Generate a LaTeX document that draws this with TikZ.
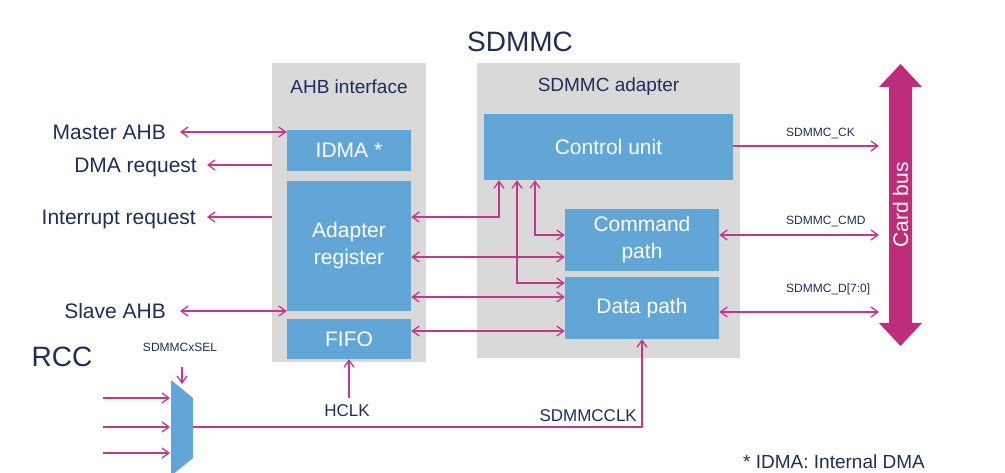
\documentclass[tikz,border=0pt]{standalone}
\usepackage{fontspec}
\setmainfont{Liberation Sans}
\usetikzlibrary{arrows.meta}
\definecolor{stblue}{HTML}{62A6D7}
\definecolor{stgray}{HTML}{D9D9D9}
\definecolor{stpink}{HTML}{C4378A}
\definecolor{busc}{HTML}{BE2D78}
\definecolor{navy}{HTML}{1F2D5A}
\newcommand\fsz[1]{\fontsize{#1}{1.28\dimexpr#1pt\relax}\selectfont}
\tikzset{
    grp/.style={fill=stgray, inner sep=0},
    blk/.style={fill=stblue, text=white, inner sep=0, align=center, font=\fsz{21}},
    lbl/.style={text=navy, inner sep=0},
    sig/.style={stpink, line width=1.3pt},
    >={Straight Barb[length=7pt,width=10pt]}
}
\begin{document}
\begin{tikzpicture}[x=1pt, y=-1pt]
        \useasboundingbox (0,0) rectangle (1005,473);

        % groups
        \node[grp, minimum width=154, minimum height=299] (ahb) at (349,212.5) {};
        \node[grp, minimum width=263, minimum height=295] (adapter) at (608.5,210.5) {};
        \node[lbl, font=\fsz{28}] (title) at (520,42) {SDMMC};
        \node[lbl, font=\fsz{19}] (ahblbl) at (349,87) {AHB interface};
        \node[lbl, font=\fsz{19}] (adplbl) at (608.5,87) {SDMMC adapter};

        % blocks
        \node[blk, minimum width=124, minimum height=41] (idma) at (349,150.5) {IDMA *};
        \node[blk, minimum width=124, minimum height=130] (areg) at (349,246) {Adapter\\register};
        \node[blk, minimum width=124, minimum height=40] (fifo) at (349,339) {FIFO};
        \node[blk, minimum width=249, minimum height=66] (ctrl) at (608.5,147) {Control unit};
        \node[blk, minimum width=154, minimum height=62] (cmd) at (642,240) {Command\\path};
        \node[blk, minimum width=154, minimum height=62] (data) at (642,308) {Data path};

        % card bus
        \fill[busc] (900.5,64) -- (922,87) -- (912,87) -- (912,323) -- (922,323) -- (900.5,346)
            -- (879,323) -- (889,323) -- (889,87) -- (879,87) -- cycle;
        \node[text=white, inner sep=0, font=\fsz{21}, rotate=90] (cardbus) at (900.5,205) {Card bus};

        % left side
        \node[lbl, font=\fsz{21}, anchor=base east] (master) at (166,139.5) {Master AHB};
        \node[lbl, font=\fsz{21}, anchor=base east] (dmareq) at (197,172.5) {DMA request};
        \node[lbl, font=\fsz{21}, anchor=base east] (irq) at (196,224.5) {Interrupt request};
        \node[lbl, font=\fsz{21}, anchor=base east] (slave) at (166,318.5) {Slave AHB};

        \coordinate (rmaster) at (180,132);
        \coordinate (rdma) at (207,165);
        \coordinate (rirq) at (207,217);
        \coordinate (rslave) at (180,311);
        \draw[sig, <->] (rmaster) -- (rmaster -| idma.west);
        \draw[sig, ->] (rdma -| ahb.west) -- (rdma);
        \draw[sig, ->] (rirq -| ahb.west) -- (rirq);
        \draw[sig, <->] (rslave) -- (rslave -| areg.west);

        % inside
        \coordinate (creg) at (499,217);
        \coordinate (cdat) at (517,283);
        \coordinate (ccmd) at (535,235);
        \draw[sig, <->] (creg |- ctrl.south) -- (creg) -- (creg -| areg.east);
        \draw[sig, <->] (cdat |- ctrl.south) -- (cdat) -- (cdat -| data.west);
        \draw[sig, <->] (ccmd |- ctrl.south) -- (ccmd) -- (ccmd -| cmd.west);

        \coordinate (r1) at (0,257);
        \coordinate (r2) at (0,297);
        \coordinate (r3) at (0,331);
        \draw[sig, <->] (r1 -| areg.east) -- (r1 -| cmd.west);
        \draw[sig, <->] (r2 -| areg.east) -- (r2 -| data.west);
        \draw[sig, <->] (r3 -| fifo.east) -- (r3 -| data.west);

        % card side
        \coordinate (rck) at (879,146);
        \coordinate (rcmd) at (879,235);
        \coordinate (rdat) at (879,312);
        \draw[sig, ->] (rck -| ctrl.east) -- (rck);
        \draw[sig, <->] (rcmd -| cmd.east) -- (rcmd);
        \draw[sig, <->] (rdat -| data.east) -- (rdat);
        \node[lbl, font=\fsz{12}, anchor=west] (cklbl) at (786,134) {SDMMC\_CK};
        \node[lbl, font=\fsz{12}, anchor=west] (cmdlbl) at (786,222) {SDMMC\_CMD};
        \node[lbl, font=\fsz{12}, anchor=west] (datlbl) at (786,289) {SDMMC\_D[7:0]};

        % RCC
        \node[lbl, font=\fsz{28}] (rcc) at (62,357) {RCC};
        \node[lbl, font=\fsz{12}] (sel) at (180,347) {SDMMCxSEL};
        \fill[stblue] (171,380) -- (193,398) -- (193,458) -- (171,476) -- cycle;
        \coordinate (muxout) at (193,427);
        \coordinate (selin) at (182,384);
        \draw[sig, ->] (selin) ++(0,-17) -- (selin);
        \foreach \y in {398,427,453}
            \draw[sig, ->] (103,\y) -- (170,\y);
        \draw[sig, ->] (muxout) -| (data.south);
        \node[lbl, font=\fsz{17}, anchor=base east] (sdclk) at (637,421) {SDMMCCLK};

        \node[lbl, font=\fsz{17}, anchor=base] (hclk) at (347,416) {HCLK};
        \draw[sig, ->] ([yshift=6pt]hclk.north -| fifo.south) -- (fifo.south);

        \node[lbl, font=\fsz{19}, anchor=base west] (note) at (743,468) {* IDMA: Internal DMA};
    \end{tikzpicture}
\end{document}
